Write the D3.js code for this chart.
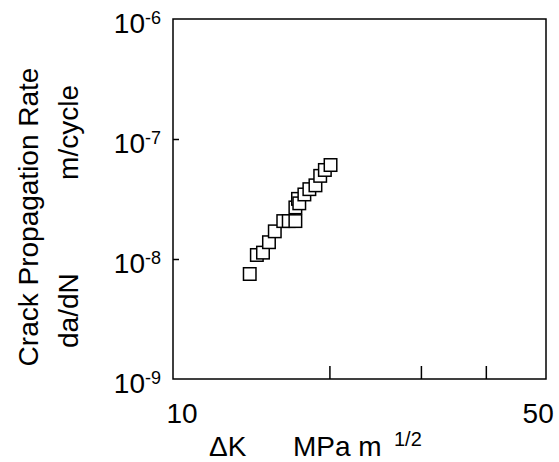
<!DOCTYPE html>
<html>
<head>
<meta charset="utf-8">
<script src="https://cdn.jsdelivr.net/npm/d3@7"></script>
<style>
  html, body { margin: 0; padding: 0; background: #fff; }
  svg { display: block; font-family: "Liberation Sans", Arial, sans-serif; }
</style>
</head>
<body>
<svg id="chart" width="559" height="462"></svg>
<script>
// ---- data ----
const deltaK = [14.05, 14.5, 14.9, 15.3, 15.7, 16.3, 16.7, 17.2, 17.2, 17.4, 17.5, 17.9, 18.3, 18.8, 19.2, 19.6, 20.1];
const dadN   = [7.5e-9, 1.08e-8, 1.13e-8, 1.38e-8, 1.7e-8, 2.07e-8, 2.07e-8, 2.07e-8, 2.69e-8, 3.17e-8, 2.91e-8, 3.45e-8, 3.82e-8, 4.11e-8, 4.93e-8, 5.52e-8, 6.07e-8];
const xTickValues = [20, 30, 40];
const xTickLabels = [{v: 10, t: "10"}, {v: 50, t: "50"}];
const yTickValues = [1e-9, 1e-8, 1e-7, 1e-6];
const yTickExponents = ["-9", "-8", "-7", "-6"];

(function () {
const svg = d3.select("#chart");
const L = 173, R = 546, T = 19, B = 379;
const pxPerDecade = 519.6;
const xMax = 10 * Math.pow(10, (R - L) / pxPerDecade);
const FS = 28, SFS = 18;

const x = d3.scaleLog().domain([10, xMax]).range([L, R]);
const y = d3.scaleLog().domain([1e-9, 1e-6]).range([B, T]);

// frame
svg.append("rect")
  .attr("x", L).attr("y", T)
  .attr("width", R - L).attr("height", B - T)
  .attr("fill", "none").attr("stroke", "#000").attr("stroke-width", 1.5);

// x ticks (inside, from bottom)
const xAxis = d3.axisTop(x).tickValues(xTickValues).tickSize(13).tickFormat("");
svg.append("g").attr("transform", `translate(0,${B})`).call(xAxis)
  .call(g => g.select(".domain").remove())
  .call(g => g.selectAll("line").attr("stroke", "#000").attr("stroke-width", 1.5));

// y ticks (inside, from left)
const yAxis = d3.axisRight(y).tickValues(yTickValues.slice(1, 3)).tickSize(6).tickFormat("");
svg.append("g").attr("transform", `translate(${L},0)`).call(yAxis)
  .call(g => g.select(".domain").remove())
  .call(g => g.selectAll("line").attr("stroke", "#000").attr("stroke-width", 1.5));

// y tick labels 10^n
const yl = svg.append("g");
yTickValues.forEach((v, i) => {
  const t = yl.append("text")
    .attr("x", L - 12).attr("y", y(v) + 14)
    .attr("text-anchor", "end")
    .attr("font-size", FS).attr("fill", "#000");
  t.append("tspan").text("10");
  t.append("tspan").attr("dy", -9).attr("font-size", SFS).text(yTickExponents[i]);
});

// x tick labels
xTickLabels.forEach(d => {
  svg.append("text")
    .attr("x", x(d.v) + (d.v === 10 ? 9 : 2)).attr("y", 423)
    .attr("text-anchor", "middle")
    .attr("font-size", FS).attr("fill", "#000")
    .text(d.t);
});

// x label
svg.append("text")
  .attr("x", 209).attr("y", 456)
  .attr("font-size", FS).attr("fill", "#000")
  .text("\u0394K");
svg.append("text")
  .attr("x", 293).attr("y", 456)
  .attr("font-size", FS).attr("fill", "#000")
  .text("MPa m");
svg.append("text")
  .attr("x", 394).attr("y", 446)
  .attr("font-size", 20).attr("fill", "#000")
  .text("1/2");

// y label
const ylab = svg.append("g").attr("transform", "rotate(-90)");
ylab.append("text").attr("x", -217).attr("y", 38)
  .attr("text-anchor", "middle").attr("font-size", FS).attr("fill", "#000")
  .text("Crack Propagation Rate");
ylab.append("text").attr("x", -348).attr("y", 78)
  .attr("text-anchor", "start").attr("font-size", FS).attr("fill", "#000")
  .text("da/dN");
ylab.append("text").attr("x", -85).attr("y", 78)
  .attr("text-anchor", "end").attr("font-size", FS).attr("fill", "#000")
  .text("m/cycle");

// points (open squares)
const s = 12.5;
svg.append("g").selectAll("rect.pt")
  .data(deltaK.map((k, i) => ({k, r: dadN[i]})))
  .join("rect")
  .attr("class", "pt")
  .attr("x", d => x(d.k) - s / 2)
  .attr("y", d => y(d.r) - s / 2)
  .attr("width", s).attr("height", s)
  .attr("fill", "#fff").attr("stroke", "#000").attr("stroke-width", 1.5);
})();
</script>
</body>
</html>
